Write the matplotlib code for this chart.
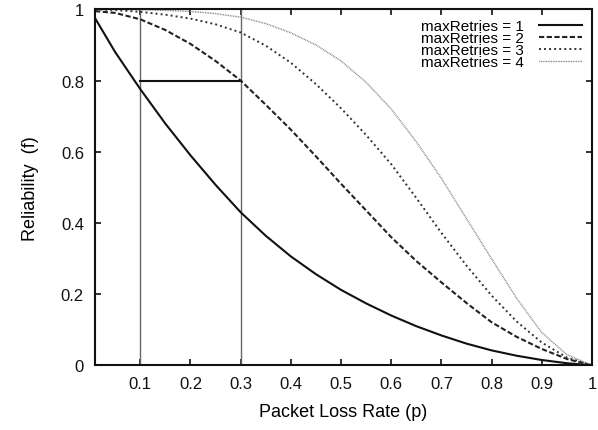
import matplotlib
matplotlib.use("Agg")
from matplotlib import pyplot as plt

# packet loss rate p
p = [0.01, 0.05, 0.1, 0.15, 0.2, 0.25, 0.3, 0.35, 0.4, 0.45, 0.5,
     0.55, 0.6, 0.65, 0.7, 0.75, 0.8, 0.85, 0.9, 0.95, 1.0]

# reliability f, one list per maxRetries
retries_1 = [0.975, 0.88, 0.776, 0.679, 0.59, 0.507, 0.43, 0.364, 0.306, 0.256, 0.212,
             0.174, 0.14, 0.11, 0.084, 0.061, 0.042, 0.027, 0.015, 0.006, 0.0]
retries_2 = [0.995, 0.99, 0.972, 0.942, 0.903, 0.855, 0.80, 0.732, 0.662, 0.587, 0.51,
             0.435, 0.36, 0.293, 0.233, 0.175, 0.121, 0.08, 0.046, 0.018, 0.0]
retries_3 = [1.0, 0.998, 0.993, 0.985, 0.974, 0.958, 0.935, 0.898, 0.85, 0.79, 0.722,
             0.647, 0.565, 0.47, 0.372, 0.28, 0.196, 0.123, 0.064, 0.022, 0.0]
retries_4 = [1.0, 1.0, 0.999, 0.997, 0.994, 0.988, 0.978, 0.96, 0.934, 0.9, 0.855,
             0.795, 0.72, 0.628, 0.525, 0.412, 0.299, 0.188, 0.092, 0.03, 0.0]

# marked operating points
mark_x = [0.1, 0.3]
mark_y = 0.8

x_ticks = [0.1, 0.2, 0.3, 0.4, 0.5, 0.6, 0.7, 0.8, 0.9, 1.0]
x_labels = ["0.1", "0.2", "0.3", "0.4", "0.5", "0.6", "0.7", "0.8", "0.9", "1"]
y_ticks = [0, 0.2, 0.4, 0.6, 0.8, 1.0]
y_labels = ["0", "0.2", "0.4", "0.6", "0.8", "1"]

plt.rcParams["font.family"] = ["Liberation Sans", "DejaVu Sans"]

fig = plt.figure(figsize=(5.98, 4.31), dpi=100)
ax = fig.add_axes([0.159, 0.150, 0.831, 0.826])

# guide lines
for xv in mark_x:
    ax.plot([xv, xv], [0, 1], color="#666666", lw=1.0)
ax.plot(mark_x, [mark_y, mark_y], color="#111111", lw=1.5)

# curves
ax.plot(p, retries_1, color="#111111", lw=1.5, label="maxRetries = 1")
ax.plot(p, retries_2, color="#222222", lw=1.5, dashes=(2.5, 1.2), label="maxRetries = 2")
ax.plot(p, retries_3, color="#333333", lw=1.4, dashes=(1.0, 1.6), label="maxRetries = 3")
ax.plot(p, retries_4, color="#777777", lw=1.0, dashes=(0.6, 0.6), label="maxRetries = 4")

ax.set_xlim(0.01, 1.0)
ax.set_ylim(0, 1)
ax.set_xticks(x_ticks)
ax.set_xticklabels(x_labels)
ax.set_yticks(y_ticks)
ax.set_yticklabels(y_labels)
ax.tick_params(direction="in", length=4, width=1.2, top=True, right=True,
               labelsize=12, pad=8, colors="#111111")

for s in ax.spines.values():
    s.set_linewidth(1.5)
    s.set_color("#111111")

ax.set_xlabel("Packet Loss Rate (p)", fontsize=13, labelpad=8)
ax.set_ylabel("Reliability  (f)", fontsize=13, labelpad=16)

ax.legend(loc="upper right", frameon=False, markerfirst=False, fontsize=11,
          handlelength=2.8, labelspacing=-0.13, borderaxespad=0.25, handletextpad=1.0)

fig.savefig("out.png", dpi=100)
